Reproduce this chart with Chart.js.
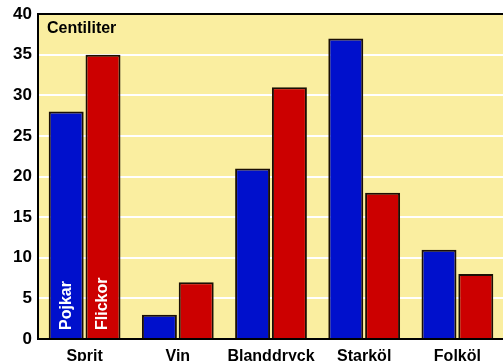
<!DOCTYPE html>
<html>
<head>
<meta charset="utf-8">
<script src="https://cdn.jsdelivr.net/npm/chart.js@4.4.1/dist/chart.umd.min.js"></script>
<style>
  html, body { margin: 0; padding: 0; background: #fff; overflow: hidden; }
  #wrap { width: 506px; height: 361px; }
</style>
</head>
<body>
<div id="wrap"><canvas id="myChart" width="506" height="361"></canvas></div>
<script>
var categories = ['Sprit', 'Vin', 'Blanddryck', 'Starköl', 'Folköl'];
var pojkar = [28, 3, 21, 37, 11];
var flickor = [35, 7, 31, 18, 8];
var seriesNames = ['Pojkar', 'Flickor'];
var unitLabel = 'Centiliter';

var FONT = '"Liberation Sans", Arial, sans-serif';

var decorPlugin = {
    id: 'decor',
    beforeDraw: function (chart) {
        var a = chart.chartArea, ctx = chart.ctx;
        ctx.save();
        ctx.fillStyle = '#FAEEA0';
        ctx.fillRect(a.left, a.top, a.right - a.left, a.bottom - a.top);
        ctx.restore();
    },
    afterDatasetsDraw: function (chart) {
        var a = chart.chartArea, ctx = chart.ctx;
        ctx.save();
        ctx.strokeStyle = '#000';
        ctx.lineWidth = 2;
        ctx.strokeRect(a.left, a.top, a.right - a.left, a.bottom - a.top);
        ctx.fillStyle = '#000';
        ctx.font = 'bold 16px ' + FONT;
        ctx.textBaseline = 'middle';
        ctx.textAlign = 'left';
        ctx.fillText(unitLabel, a.left + 9, a.top + 15);
        // series names inside the first bars
        ctx.fillStyle = '#fff';
        ctx.font = 'bold 16px ' + FONT;
        for (var d = 0; d < 2; d++) {
            var bar = chart.getDatasetMeta(d).data[0];
            ctx.save();
            ctx.translate(bar.x, a.bottom - 9);
            ctx.rotate(-Math.PI / 2);
            ctx.textAlign = 'left';
            ctx.textBaseline = 'middle';
            ctx.fillText(seriesNames[d], 0, 0);
            ctx.restore();
        }
        ctx.restore();
    }
};

function initGraph() {
    var data = {
        labels: categories,
        datasets: [{
            label: seriesNames[0],
            backgroundColor: '#0010CC',
            borderColor: '#1a0f05',
            borderWidth: 2,
            data: pojkar
        }, {
            label: seriesNames[1],
            backgroundColor: '#CC0000',
            borderColor: '#1a0f05',
            borderWidth: 2,
            data: flickor
        }]
    };
    var config = {
        type: 'bar',
        data: data,
        options: {
            responsive: false,
            animation: false,
            categoryPercentage: 0.79,
            barPercentage: 0.95,
            layout: { padding: { top: 14, right: 2, left: 0, bottom: 0 } },
            plugins: { legend: { display: false }, tooltip: { enabled: false } },
            scales: {
                x: {
                    grid: { display: false, drawTicks: false },
                    border: { display: false },
                    ticks: { color: '#000', font: { family: FONT, size: 16, weight: 'bold' }, padding: 8, maxRotation: 0 },
                    afterFit: function (s) { s.height = 22; s.paddingLeft = 0; s.paddingRight = 0; }
                },
                y: {
                    min: 0, max: 40,
                    grid: { color: '#fff', lineWidth: 2, drawTicks: false },
                    border: { display: false },
                    ticks: { stepSize: 5, color: '#000', font: { family: FONT, size: 17, weight: 'bold' }, padding: 6 },
                    afterFit: function (s) { s.width = 38; s.paddingTop = 0; s.paddingBottom = 0; }
                }
            }
        },
        plugins: [decorPlugin]
    };
    new Chart(document.getElementById('myChart'), config);
}
initGraph();
</script>
</body>
</html>
